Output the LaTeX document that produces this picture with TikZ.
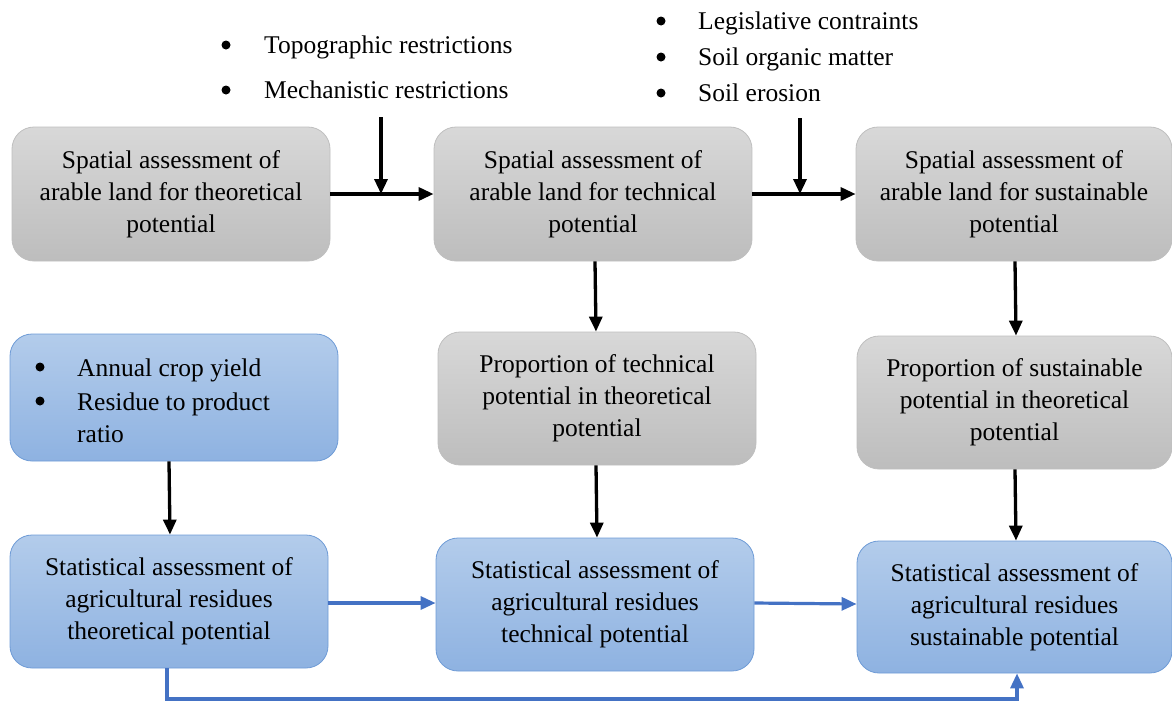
\documentclass[tikz,border=0pt]{standalone}
\usepackage{fontspec}
\setmainfont{Liberation Serif}
\usetikzlibrary{arrows.meta,calc}

\definecolor{boxGrayTop}{HTML}{D8D8D8}
\definecolor{boxGrayBot}{HTML}{BDBDBD}
\definecolor{boxGrayLine}{HTML}{BFBFBF}
\definecolor{boxBlueTop}{HTML}{B3CCEB}
\definecolor{boxBlueBot}{HTML}{8EB2E1}
\definecolor{boxBlueLine}{HTML}{6E9BD6}
\definecolor{linkBlue}{HTML}{4472C4}

\tikzset{
  box/.style={rounded corners=22pt, line width=0.8pt, inner sep=0pt,
    align=center, font=\fontsize{25.5}{32}\selectfont, text=black},
  graybox/.style={box, draw=boxGrayLine, top color=boxGrayTop, bottom color=boxGrayBot},
  bluebox/.style={box, draw=boxBlueLine, top color=boxBlueTop, bottom color=boxBlueBot},
  factor/.style={anchor=base west, inner sep=0pt, font=\fontsize{25.5}{30}\selectfont},
  dot/.style={circle, fill=black, inner sep=0pt, minimum size=9pt},
  blackarrow/.style={line width=3.3pt, -{Triangle[length=15pt,width=13pt]}},
  bluearrow/.style={line width=3.2pt, draw=linkBlue, color=linkBlue, -{Triangle[length=15pt,width=13pt]}},
}

\begin{document}
\begin{tikzpicture}[x=1pt,y=-1pt]
\useasboundingbox (0,0) rectangle (1172,702);

% spatial assessment row
\node[graybox, minimum width=318pt, minimum height=134pt] (a1) at (171,194)
  {Spatial assessment of\\arable land for theoretical\\potential};
\node[graybox, minimum width=318pt, minimum height=134pt] (a2) at (593,194)
  {Spatial assessment of\\arable land for technical\\potential};
\node[graybox, minimum width=316pt, minimum height=134pt] (a3) at (1014,194)
  {Spatial assessment of\\arable land for sustainable\\potential};

% middle row
\node[bluebox, minimum width=328pt, minimum height=127pt] (b1) at (174,397.5) {};
\node[dot] (b1d1) at (40,367) {};
\node[dot] (b1d2) at (40,401) {};
\node[factor] (b1a) at (77,376) {Annual crop yield};
\node[factor] (b1b) at (77,410) {Residue to product};
\node[factor] (b1c) at (77,442) {ratio};
\node[graybox, minimum width=318pt, minimum height=133pt] (b2) at (597,398.5)
  {Proportion of technical\\potential in theoretical\\potential};
\node[graybox, minimum width=315pt, minimum height=133pt] (b3) at (1014.5,402.5)
  {Proportion of sustainable\\potential in theoretical\\potential};

% statistical assessment row
\node[bluebox, minimum width=318pt, minimum height=133pt] (c1) at (169,601.5)
  {Statistical assessment of\\agricultural residues\\theoretical potential};
\node[bluebox, minimum width=318pt, minimum height=133pt] (c2) at (595,604.5)
  {Statistical assessment of\\agricultural residues\\technical potential};
\node[bluebox, minimum width=315pt, minimum height=132pt] (c3) at (1014.5,607)
  {Statistical assessment of\\agricultural residues\\sustainable potential};

% restriction lists
\node[dot] (t1d1) at (226,45) {};
\node[dot] (t1d2) at (226,90) {};
\node[factor] (t1a) at (264,53) {Topographic restrictions};
\node[factor] (t1b) at (264,98) {Mechanistic restrictions};
\node[dot] (t2d1) at (661,21) {};
\node[dot] (t2d2) at (661,57) {};
\node[dot] (t2d3) at (661,93) {};
\node[factor] (t2a) at (698,29) {Legislative contraints};
\node[factor] (t2b) at (698,65) {Soil organic matter};
\node[factor] (t2c) at (698,101) {Soil erosion};

% spatial flow with restriction inputs
\coordinate (m1) at ($(a1.east)!0.5!(a2.west)$);
\coordinate (m2) at ($(a2.east)!0.5!(a3.west)$);
\coordinate (r1) at (381,117);
\coordinate (r2) at (800,118);
\draw[blackarrow] (a1.east) -- (a2.west);
\draw[blackarrow] (a2.east) -- (a3.west);
\draw[blackarrow] (r1) -- (m1 -| r1);
\draw[blackarrow] (r2) -- (m2 -| r2);

% vertical flows
\draw[blackarrow] (a2.south -| 595,0) -- (b2.north -| 596,0);
\draw[blackarrow] (a3.south -| 1015,0) -- (b3.north -| 1016,0);
\draw[blackarrow] (b1.south -| 169,0) -- (c1.north -| 170,0);
\draw[blackarrow] (b2.south -| 596,0) -- (c2.north -| 597,0);
\draw[blackarrow] (b3.south -| 1015,0) -- (c3.north -| 1016,0);

% statistical flow
\draw[bluearrow] (c1.east |- 0,603) -- (c2.west |- 0,603);
\draw[bluearrow] (c2.east |- 0,603) -- (c3.west |- 0,604);
\draw[bluearrow, rounded corners=0pt] (c1.south -| 167,0) -- (167,699) -- (1017,699) -- (c3.south -| 1017,0);
\end{tikzpicture}
\end{document}
